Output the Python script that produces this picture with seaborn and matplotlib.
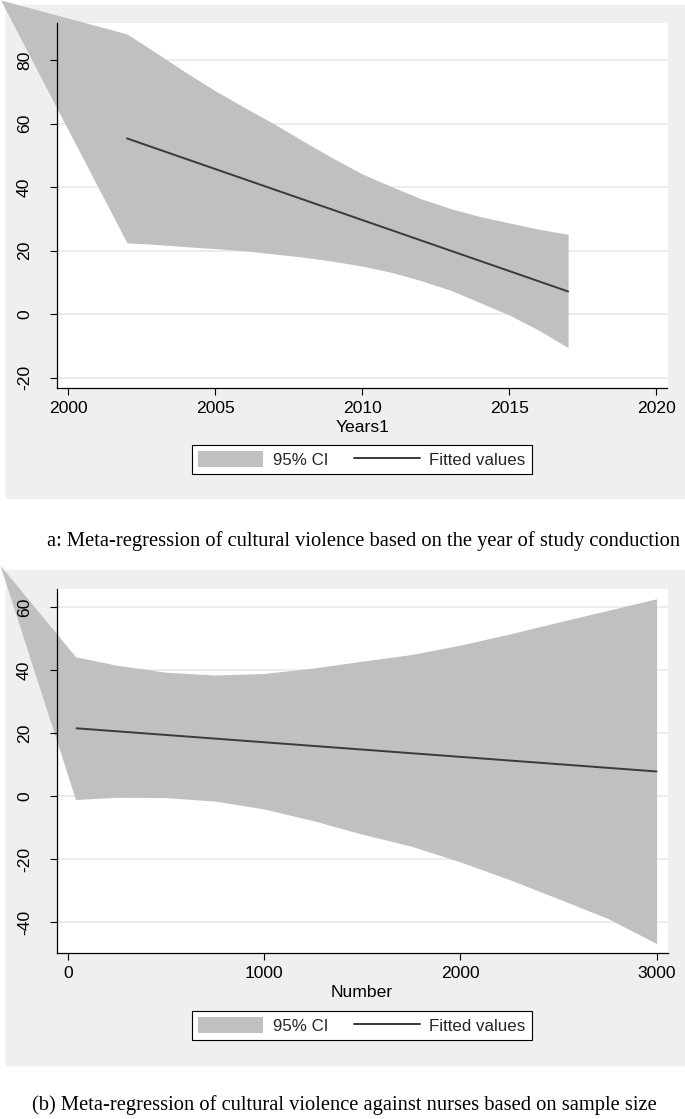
import matplotlib
matplotlib.use("Agg")
import matplotlib.pyplot as plt
from matplotlib.patches import Rectangle, Patch
from matplotlib.lines import Line2D
import seaborn as sns
import pandas as pd

# panel a: meta-regression on year of study
years = [1997.7, 2002, 2003, 2004, 2005, 2006, 2007, 2008, 2009, 2010,
         2011, 2012, 2013, 2014, 2015, 2016, 2017]
ci_upper_a = [99.0, 88.3, 82.3, 76.2, 70.4, 65.1, 60.0, 54.5, 49.2, 44.2,
              40.2, 36.4, 33.3, 30.8, 28.8, 26.8, 25.2]
ci_lower_a = [99.0, 22.5, 22.0, 21.3, 20.7, 20.0, 19.0, 18.0, 16.7, 15.2,
              13.2, 10.6, 7.6, 3.7, -0.2, -5.0, -10.5]
fit_x_a = [2002, 2017]
fit_y_a = [55.4, 7.2]
xticks_a = [2000, 2005, 2010, 2015, 2020]
yticks_a = [-20, 0, 20, 40, 60, 80]

# panel b: meta-regression on sample size
number = [-345, 40, 250, 500, 750, 1000, 1250, 1500, 1750, 2000,
          2250, 2500, 2750, 3000]
ci_upper_b = [73.4, 44.3, 41.6, 39.4, 38.5, 39.0, 40.7, 42.9, 45.0, 48.0,
              51.5, 55.3, 59.0, 62.7]
ci_lower_b = [73.4, -1.0, -0.3, -0.4, -1.5, -4.0, -7.7, -12.0, -15.8, -20.8,
              -26.4, -32.5, -38.7, -46.7]
fit_x_b = [45, 3000]
fit_y_b = [21.6, 7.9]
xticks_b = [0, 1000, 2000, 3000]
yticks_b = [-40, -20, 0, 20, 40, 60]

caption_a = "a: Meta-regression of cultural violence based on the year of study conduction"
caption_b = "(b) Meta-regression of cultural violence against nurses based on sample size"

sns.set_theme(style="white")
plt.rcParams["font.family"] = ["Liberation Sans", "DejaVu Sans"]

W, H = 685, 1119
fig = plt.figure(figsize=(W / 100, H / 100), dpi=100)
fig.patch.set_facecolor("white")

band_col = "#c0c0c0"
line_col = "#3a3a3a"
bg_col = "#efefef"
fs = 12.6


def fx(px):
    return px / W


def fy(py):
    return 1 - py / H


def panel(top_bg, bot_bg, plot_top, plot_bot, xs, up, lo, fx_, fy_, xlim, ylim,
          xt, yt, xlabel, leg_cy, cap, cap_cx, cap_cy):
    fig.patches.append(Rectangle((fx(6), fy(bot_bg)), 1 - fx(6), (bot_bg - top_bg) / H,
                                 transform=fig.transFigure, color=bg_col, zorder=-5))
    ax = fig.add_axes([fx(57), fy(plot_bot), (667.5 - 57) / W, (plot_bot - plot_top) / H])
    ax.set_zorder(1)
    ax.set_axisbelow(False)
    ax.set_facecolor("white")
    ax.fill_between(xs, lo, up, color=band_col, lw=0, clip_on=False, zorder=2)
    df = pd.DataFrame({"x": fx_, "y": fy_})
    sns.lineplot(data=df, x="x", y="y", ax=ax, color=line_col, lw=1.4, zorder=3)
    ax.set_xlim(*xlim)
    ax.set_ylim(*ylim)
    ax.set_xticks(xt)
    ax.set_yticks(yt)
    ax.set_yticklabels([str(v) for v in yt], rotation=90, va="center")
    for v in yt:
        ax.axhline(v, color="#eaeaea", lw=1.3, zorder=1)
    for s in ["top", "right"]:
        ax.spines[s].set_visible(False)
    for s in ["left", "bottom"]:
        ax.spines[s].set_color("black")
        ax.spines[s].set_linewidth(0.9)
    ax.tick_params(axis="both", which="major", length=5, width=0.8, color="black",
                   labelsize=fs, labelcolor="black", bottom=True, left=True)
    ax.tick_params(axis="x", pad=4.5)
    ax.tick_params(axis="y", pad=13)
    ax.set_xlabel(xlabel, fontsize=fs, labelpad=2.5, color="black")
    ax.set_ylabel("")
    handles = [Patch(facecolor=band_col, edgecolor="none"),
               Line2D([0], [0], color=line_col, lw=1.4)]
    leg = ax.legend(handles, ["95% CI", "Fitted values"], ncol=2, loc="center",
                    bbox_to_anchor=(fx(361.7), fy(leg_cy)), bbox_transform=fig.transFigure,
                    frameon=True, fancybox=False, edgecolor="black", framealpha=1,
                    handlelength=3.85, handleheight=1.1, handletextpad=0.55,
                    columnspacing=1.55, borderpad=0.38, fontsize=12.2)
    leg.get_frame().set_linewidth(0.8)
    fig.text(fx(cap_cx), fy(cap_cy), cap, ha="center", va="center",
             family=["Liberation Serif", "DejaVu Serif"], fontsize=14.75, color="black")
    return ax


panel(5, 498, 22.5, 388.3, years, ci_upper_a, ci_lower_a, fit_x_a, fit_y_a,
      (1999.62, 2020.38), (-23.3, 91.9), xticks_a, yticks_a, "Years1", 459.5,
      caption_a, 364, 541)
panel(570, 1065, 589, 953.3, number, ci_upper_b, ci_lower_b, fit_x_b, fit_y_b,
      (-54.5, 3055.5), (-49.8, 65.8), xticks_b, yticks_b, "Number", 1025.5,
      caption_b, 344, 1105)

fig.savefig("out.png", dpi=100)
